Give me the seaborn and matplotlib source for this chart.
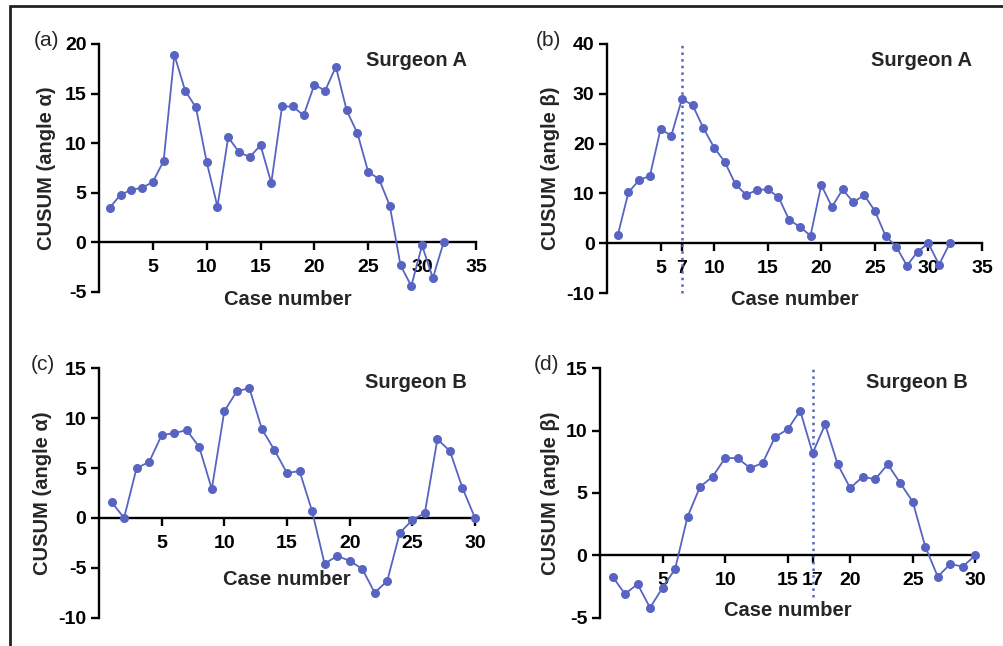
import numpy as np
import pandas as pd
import seaborn as sns
import matplotlib.pyplot as plt
from matplotlib.lines import Line2D

# CUSUM values
alpha_a = [3.5, 4.8, 5.3, 5.5, 6.1, 8.2, 18.9, 15.3, 13.6, 8.1, 3.6, 10.6, 9.1, 8.6, 9.8, 6.0,
           13.7, 13.7, 12.8, 15.9, 15.3, 17.7, 13.3, 11.0, 7.1, 6.4, 3.7, -2.3, -4.4, -0.3, -3.6, 0.0]
beta_a = [1.6, 10.2, 12.7, 13.5, 22.9, 21.6, 29.0, 27.7, 23.1, 19.2, 16.3, 11.8, 9.7, 10.7, 10.8, 9.3,
          4.7, 3.3, 1.5, 11.7, 7.3, 10.8, 8.2, 9.7, 6.5, 1.5, -0.7, -4.5, -1.7, 0.0, -4.3, 0.0]
alpha_b = [1.6, 0.0, 5.0, 5.6, 8.3, 8.5, 8.8, 7.1, 2.9, 10.7, 12.7, 13.0, 8.9, 6.8, 4.5, 4.7,
           0.7, -4.6, -3.8, -4.3, -5.1, -7.5, -6.3, -1.5, -0.2, 0.5, 7.9, 6.7, 3.0, 0.0]
beta_b = [-1.7, -3.1, -2.3, -4.2, -2.6, -1.1, 3.1, 5.5, 6.3, 7.8, 7.8, 7.0, 7.4, 9.5, 10.1, 11.6,
          8.2, 10.5, 7.3, 5.4, 6.3, 6.1, 7.3, 5.8, 4.3, 0.7, -1.7, -0.7, -0.9, 0.0]

panel_tags = ["(a)", "(b)", "(c)", "(d)"]
surgeons = ["Surgeon A", "Surgeon A", "Surgeon B", "Surgeon B"]
ylabels = ["CUSUM (angle α)", "CUSUM (angle β)", "CUSUM (angle α)", "CUSUM (angle β)"]
xticks_all = [[5, 10, 15, 20, 25, 30, 35], [5, 7, 10, 15, 20, 25, 30, 35],
              [5, 10, 15, 20, 25, 30], [5, 10, 15, 17, 20, 25, 30]]
yticks_all = [[-5, 0, 5, 10, 15, 20], [-10, 0, 10, 20, 30, 40],
              [-10, -5, 0, 5, 10, 15], [-5, 0, 5, 10, 15]]
xmax_all = [35, 35, 30, 30]
cut_points = [None, 7, None, 17]

sns.set_style("ticks")
plt.rcParams['font.family'] = ['Liberation Sans', 'DejaVu Sans']

blue = '#5864c2'
fig = plt.figure(figsize=(10.04, 6.46), dpi=100)

positions = [[0.0986, 0.548, 0.3754, 0.3839],
             [0.6046, 0.5464, 0.3734, 0.3855],
             [0.0986, 0.0438, 0.3745, 0.3861],
             [0.5976, 0.0438, 0.3738, 0.3861]]
xlab_y = [-0.032, -0.028, 0.155, 0.027]
ylab_x = [-0.138, -0.152, -0.150, -0.133]
tag_xy = [(47, 40), (548, 40), (43, 365), (547, 365)]
surg_xy = [(416, 60), (922, 60), (416, 383), (917, 383)]

series = [alpha_a, beta_a, alpha_b, beta_b]

for i, vals in enumerate(series):
    ax = fig.add_axes(positions[i])
    df = pd.DataFrame({"case": np.arange(1, len(vals) + 1), "cusum": vals})
    sns.lineplot(data=df, x="case", y="cusum", ax=ax, color=blue, marker='o',
                 markersize=6.5, markeredgewidth=0, linewidth=1.3, clip_on=False, zorder=3)
    ax.set_xlim(0, xmax_all[i])
    ax.set_ylim(yticks_all[i][0], yticks_all[i][-1])
    ax.set_xticks(xticks_all[i])
    ax.set_yticks(yticks_all[i])

    if cut_points[i] is not None:
        top = yticks_all[i][-1]
        bottom = yticks_all[i][0] if i == 1 else -3.3
        ax.plot([cut_points[i], cut_points[i]], [bottom, top], color=blue,
                linestyle=':', linewidth=1.8, clip_on=False, zorder=2)

    for s in ['top', 'right']:
        ax.spines[s].set_visible(False)
    ax.spines['bottom'].set_position(('data', 0))
    for s in ['left', 'bottom']:
        ax.spines[s].set_linewidth(1.7)
        ax.spines[s].set_color('black')
    ax.tick_params(axis='both', direction='out', length=6, width=1.7, colors='black',
                   labelsize=14)
    ax.tick_params(axis='x', pad=6)
    ax.tick_params(axis='y', pad=3)
    ax.set_xticklabels([str(t) for t in xticks_all[i]], fontweight='bold')
    ax.set_yticklabels([str(t) for t in yticks_all[i]], fontweight='bold')

    ax.set_xlabel("Case number", fontsize=14.5, fontweight='bold')
    ax.xaxis.set_label_coords(0.5, xlab_y[i])
    ax.xaxis.label.set_va('center')
    ax.set_ylabel(ylabels[i], fontsize=14.5, fontweight='bold')
    ax.yaxis.set_label_coords(ylab_x[i], 0.5)
    ax.yaxis.label.set_va('center')

    fig.text(tag_xy[i][0] / 1004, 1 - tag_xy[i][1] / 646, panel_tags[i],
             fontsize=15, ha='center', va='center')
    fig.text(surg_xy[i][0] / 1004, 1 - surg_xy[i][1] / 646, surgeons[i],
             fontsize=14.5, fontweight='bold', ha='center', va='center')

# outer frame (left and top edges only)
fig.add_artist(Line2D([0.0103, 0.0103], [0, 0.9907], transform=fig.transFigure,
                      color='#222222', linewidth=2))
fig.add_artist(Line2D([0.0103, 1.0], [0.9907, 0.9907], transform=fig.transFigure,
                      color='#222222', linewidth=2))

fig.savefig("out.png", dpi=100)
